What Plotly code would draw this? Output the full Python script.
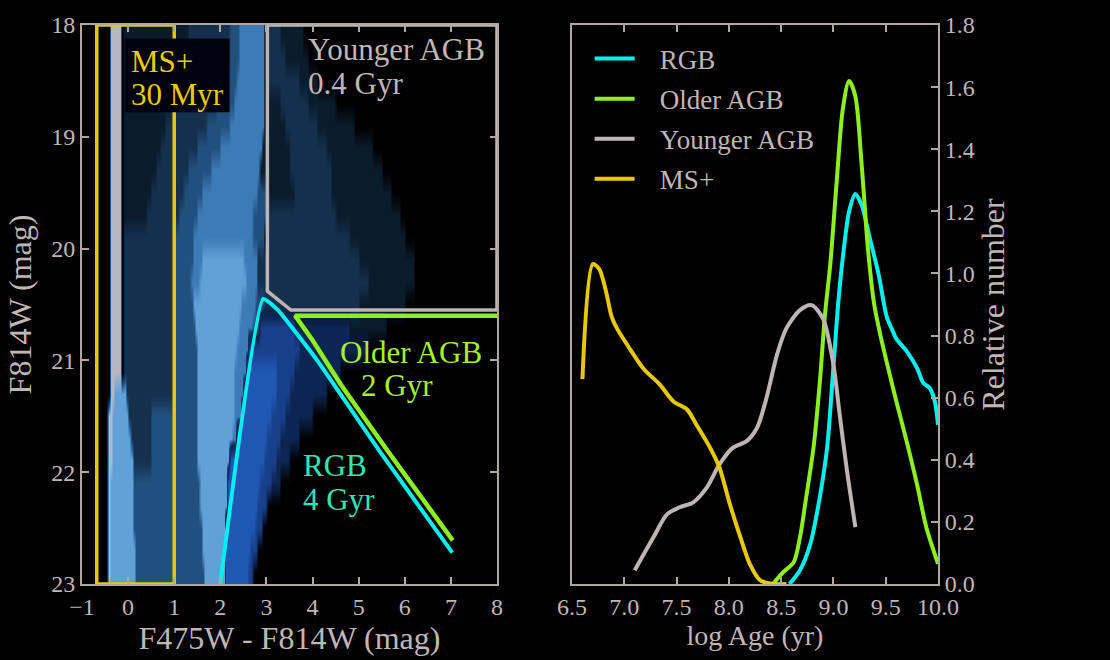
import numpy as np
import plotly.graph_objects as go

FONT = "Liberation Serif"
TXT = "#c0b7b4"
FR = "#b0a7a4"

# ---------------- Left panel: CMD star density ----------------
# F814W bins (centres, 0.2 mag tall) and colour segments (c0, c1, density level)
# levels 1-6: light-blue population (6 = densest, grey); 7-9: dark-blue RGB population
cmd_row_mag = [18.1, 18.3, 18.5, 18.7, 18.9, 19.1, 19.3, 19.5, 19.7, 19.9,
               20.1, 20.3, 20.5, 20.7, 20.9, 21.1, 21.3, 21.5, 21.7, 21.9,
               22.1, 22.3, 22.5, 22.7, 22.9]
cmd_row_segments = [
    [(-0.4, -0.15, 6), (-0.1, 1.3, 1), (1.3, 2.2, 2), (2.2, 2.4, 3), (2.4, 2.95, 4), (3.0, 3.3, 2), (3.3, 3.8, 1)],
    [(-0.4, -0.15, 6), (-0.1, 1.3, 1), (1.3, 2.2, 2), (2.2, 2.4, 3), (2.4, 2.95, 4), (3.0, 3.4, 2), (3.4, 3.9, 1)],
    [(-0.4, -0.15, 6), (-0.1, 1.2, 1), (1.2, 2.1, 2), (2.1, 2.35, 3), (2.35, 2.95, 4), (3.0, 3.7, 2), (3.7, 4.1, 1)],
    [(-0.4, -0.15, 6), (-0.1, 0.9, 1), (0.9, 1.9, 2), (1.9, 2.3, 3), (2.3, 2.95, 4), (3.0, 3.3, 1), (3.3, 3.9, 2), (3.9, 4.5, 1)],
    [(-0.4, -0.15, 6), (-0.1, 0.8, 1), (0.8, 1.7, 2), (1.7, 2.2, 3), (2.2, 2.95, 4), (3.0, 3.4, 1), (3.4, 4.1, 2), (4.1, 4.9, 1)],
    [(-0.4, -0.15, 6), (-0.1, 0.7, 1), (0.7, 1.5, 2), (1.5, 2.0, 3), (2.0, 2.9, 4), (2.9, 3.5, 1), (3.5, 4.3, 2), (4.3, 5.3, 1)],
    [(-0.4, -0.15, 6), (-0.1, 0.6, 1), (0.6, 1.3, 2), (1.3, 1.8, 3), (1.8, 2.85, 4), (2.85, 3.5, 1), (3.5, 4.4, 2), (4.4, 5.5, 1)],
    [(-0.4, -0.15, 6), (-0.1, 0.5, 1), (0.5, 1.2, 2), (1.2, 1.6, 3), (1.6, 2.8, 4), (2.8, 3.0, 3), (3.0, 3.6, 1), (3.6, 4.4, 2), (4.4, 5.7, 1)],
    [(-0.4, -0.15, 6), (-0.1, 0.4, 1), (0.4, 1.1, 2), (1.1, 1.5, 3), (1.5, 2.7, 4), (2.7, 3.0, 3), (3.0, 4.5, 2), (4.5, 5.9, 1)],
    [(-0.4, -0.15, 6), (-0.1, 1.0, 2), (1.0, 1.4, 3), (1.4, 2.7, 4), (2.7, 2.95, 3), (3.0, 4.8, 2), (4.8, 6.0, 1)],
    [(-0.4, -0.15, 6), (-0.1, 1.0, 2), (1.0, 1.4, 3), (1.4, 1.6, 4), (1.6, 2.5, 5), (2.5, 2.8, 4), (2.8, 5.0, 2), (5.0, 6.2, 1)],
    [(-0.4, -0.15, 6), (-0.1, 1.0, 2), (1.0, 1.35, 3), (1.35, 1.55, 4), (1.55, 2.55, 5), (2.55, 2.8, 4), (2.8, 5.2, 2), (5.2, 6.2, 1)],
    [(-0.4, -0.15, 6), (-0.1, 1.0, 2), (1.0, 1.4, 3), (1.4, 2.45, 5), (2.45, 2.75, 4), (2.75, 2.95, 3), (2.95, 5.0, 2), (5.0, 6.0, 1)],
    [(-0.4, -0.15, 6), (-0.1, 1.0, 2), (1.0, 1.45, 3), (1.45, 2.4, 5), (2.4, 2.7, 4), (2.7, 2.85, 3), (2.85, 3.6, 8), (3.6, 4.8, 7), (4.8, 5.6, 1)],
    [(-0.4, -0.15, 6), (-0.1, 1.0, 2), (1.0, 1.5, 3), (1.5, 2.35, 5), (2.35, 2.6, 4), (2.6, 3.7, 8), (3.7, 5.2, 7)],
    [(-0.4, -0.15, 6), (-0.1, 1.0, 2), (1.0, 1.5, 3), (1.5, 2.3, 5), (2.3, 2.55, 4), (2.55, 3.2, 9), (3.2, 3.6, 8), (3.6, 4.6, 7)],
    [(-0.4, -0.3, 6), (-0.3, -0.05, 5), (-0.05, 1.0, 2), (1.0, 1.5, 3), (1.5, 2.3, 5), (2.3, 2.5, 4), (2.5, 3.2, 9), (3.2, 3.5, 8), (3.5, 4.3, 7)],
    [(-0.45, -0.35, 6), (-0.35, 0.0, 5), (0.0, 0.5, 2), (0.5, 1.5, 3), (1.5, 2.3, 5), (2.3, 2.45, 4), (2.45, 3.1, 9), (3.1, 3.4, 8), (3.4, 4.0, 7)],
    [(-0.45, -0.35, 6), (-0.35, 0.05, 5), (0.05, 0.5, 2), (0.5, 1.5, 3), (1.5, 2.25, 5), (2.25, 2.35, 4), (2.35, 3.0, 9), (3.0, 3.3, 8), (3.3, 3.7, 7)],
    [(-0.45, -0.35, 6), (-0.35, 0.1, 5), (0.1, 0.5, 2), (0.5, 1.5, 3), (1.5, 2.2, 5), (2.2, 2.95, 9), (2.95, 3.2, 8), (3.2, 3.5, 7)],
    [(-0.45, -0.4, 6), (-0.4, 0.1, 5), (0.1, 1.55, 3), (1.55, 2.15, 5), (2.15, 2.85, 9), (2.85, 3.1, 8), (3.1, 3.3, 7)],
    [(-0.45, -0.4, 6), (-0.4, 0.12, 5), (0.12, 1.55, 3), (1.55, 2.15, 5), (2.15, 2.8, 9), (2.8, 3.0, 8)],
    [(-0.45, -0.4, 6), (-0.4, 0.12, 5), (0.12, 1.6, 3), (1.6, 2.1, 5), (2.1, 2.75, 9), (2.75, 2.9, 8)],
    [(-0.45, -0.4, 6), (-0.4, 0.15, 5), (0.15, 1.6, 3), (1.6, 2.1, 5), (2.1, 2.65, 9), (2.65, 2.8, 8)],
    [(-0.45, -0.4, 6), (-0.4, 0.15, 5), (0.15, 1.65, 3), (1.65, 2.1, 5), (2.1, 2.6, 9), (2.6, 2.7, 8)],
]
# colours of the light-blue levels 0..6 and dark-blue levels 0..3 (7..9 above)
light_level_colors = ["#000000", "#0a1b2c", "#14304d", "#22507e", "#3d7bb7", "#62a0d8", "#b5b7c2"]
dark_level_colors = ["rgba(12,37,82,0)", "rgba(12,37,82,1)", "rgb(23,63,138)", "rgb(32,87,181)"]

# selection boxes (colour, F814W)
ms_box_c = [-0.68, -0.68, 1.0, 1.0, -0.68]
ms_box_m = [18.0, 23.0, 23.0, 18.0, 18.0]
yagb_box_c = [3.02, 3.02, 3.53, 8.0, 8.0, 3.02]
yagb_box_m = [18.0, 20.38, 20.55, 20.55, 18.0, 18.0]
oagb_line_c = [8.0, 3.62, 4.0, 4.62, 5.63, 7.04]
oagb_line_m = [20.6, 20.6, 20.82, 21.22, 21.81, 22.61]
rgb_line_c = [2.0, 2.93, 3.25, 3.6, 4.1, 4.47, 5.45, 7.03]
rgb_line_m = [23.0, 20.45, 20.55, 20.73, 21.0, 21.22, 21.81, 22.72]

# ---------------- Right panel: relative number vs log age ----------------
rgb_age = [8.58, 8.68, 8.78, 8.87, 8.94, 9.00, 9.05, 9.10, 9.15, 9.21, 9.27, 9.35, 9.43,
           9.51, 9.56, 9.60, 9.70, 9.80, 9.86, 9.92, 9.97, 10.0]
rgb_val = [0.0, 0.044, 0.13, 0.28, 0.44, 0.70, 0.92, 1.08, 1.20, 1.256, 1.22, 1.11, 1.0,
           0.86, 0.82, 0.79, 0.75, 0.695, 0.647, 0.631, 0.588, 0.513]
oagb_age = [8.43, 8.52, 8.62, 8.68, 8.74, 8.81, 8.87, 8.92, 8.97, 9.03, 9.09, 9.15, 9.21,
            9.27, 9.33, 9.39, 9.45, 9.52, 9.60, 9.70, 9.80, 9.89, 10.0]
oagb_val = [0.003, 0.038, 0.07, 0.15, 0.28, 0.44, 0.65, 0.87, 1.03, 1.29, 1.53, 1.62, 1.57,
            1.35, 1.08, 0.90, 0.80, 0.70, 0.59, 0.46, 0.32, 0.18, 0.065]
yagb_age = [7.10, 7.28, 7.41, 7.53, 7.66, 7.79, 7.91, 8.04, 8.17, 8.27, 8.36, 8.46, 8.55,
            8.68, 8.79, 8.90, 9.00, 9.06, 9.13, 9.21]
yagb_val = [0.044, 0.151, 0.225, 0.247, 0.263, 0.311, 0.385, 0.439, 0.460, 0.503, 0.599,
            0.738, 0.823, 0.882, 0.898, 0.855, 0.706, 0.545, 0.364, 0.183]
ms_age = [6.60, 6.70, 6.76, 6.82, 6.88, 6.93, 7.05, 7.18, 7.34, 7.47, 7.60, 7.69, 7.82,
          7.91, 8.01, 8.11, 8.20, 8.30, 8.42, 8.55]
ms_val = [0.66, 1.03, 1.015, 0.95, 0.86, 0.823, 0.759, 0.695, 0.642, 0.588, 0.562, 0.513,
          0.439, 0.375, 0.257, 0.151, 0.065, 0.012, 0.0, 0.0]

series_names = ["RGB", "Older AGB", "Younger AGB", "MS+"]
series_colors = ["#00f0f0", "#8cf01e", "#bdb5b3", "#e8c800"]
label_colors = ["#2ee6b4", "#a6f02a", "#c0b7b4", "#e8cc00"]

# ---------------- build density grids ----------------
col_centres = np.arange(-0.975, 8.0, 0.05)
z_light = np.zeros((len(cmd_row_mag), len(col_centres)))
z_dark = np.zeros((len(cmd_row_mag), len(col_centres)))
for i, segs in enumerate(cmd_row_segments):
    for c0, c1, lev in segs:
        sel = (col_centres >= c0 - 1e-9) & (col_centres < c1 - 1e-9)
        if lev <= 6:
            z_light[i, sel] = lev
        else:
            z_dark[i, sel] = lev - 6


def scale(cols):
    n = len(cols) - 1
    return [[k / n, c] for k, c in enumerate(cols)]


fig = go.Figure()
fig.add_trace(go.Heatmap(x=col_centres, y=cmd_row_mag, z=z_light, zmin=0, zmax=6,
                         colorscale=scale(light_level_colors), zsmooth="best",
                         showscale=False, hoverinfo="skip", xaxis="x", yaxis="y"))
fig.add_trace(go.Heatmap(x=col_centres, y=cmd_row_mag, z=z_dark, zmin=0, zmax=3,
                         colorscale=scale(dark_level_colors), zsmooth="best",
                         showscale=False, hoverinfo="skip", xaxis="x", yaxis="y"))
fig.add_trace(go.Scatter(x=ms_box_c, y=ms_box_m, mode="lines", line=dict(color="#e8c800", width=3.5),
                         showlegend=False, xaxis="x", yaxis="y"))
fig.add_trace(go.Scatter(x=oagb_line_c, y=oagb_line_m, mode="lines", line=dict(color="#8cf01e", width=4.5),
                         showlegend=False, xaxis="x", yaxis="y"))
fig.add_trace(go.Scatter(x=yagb_box_c, y=yagb_box_m, mode="lines", line=dict(color="#bdb5b3", width=3.5),
                         showlegend=False, xaxis="x", yaxis="y"))
fig.add_trace(go.Scatter(x=rgb_line_c, y=rgb_line_m, mode="lines",
                         line=dict(color="#00f0f0", width=4, shape="spline", smoothing=0.4),
                         showlegend=False, xaxis="x", yaxis="y"))

ages = [rgb_age, oagb_age, yagb_age, ms_age]
vals = [rgb_val, oagb_val, yagb_val, ms_val]
NB = "\u00a0\u00a0\u00a0"
for name, col, a, v in zip(series_names, series_colors, ages, vals):
    fig.add_trace(go.Scatter(x=a, y=v, mode="lines", name=NB + name, legendgroup=name,
                             line=dict(color=col, width=4, shape="spline", smoothing=0.8),
                             xaxis="x2", yaxis="y2"))

axis_common = dict(showline=True, linecolor=FR, linewidth=2, ticks="inside", ticklen=7,
                   tickwidth=1.5, tickcolor=FR, showgrid=False, zeroline=False,
                   tickfont=dict(family=FONT, size=24, color=TXT))

fig.update_layout(
    width=1110, height=660,
    paper_bgcolor="black", plot_bgcolor="black",
    margin=dict(l=82, r=172, t=25, b=73),
    font=dict(family=FONT, color=TXT),
    xaxis=dict(domain=[0, 0.4848], range=[-1, 8], tickvals=list(range(-1, 9)), mirror="allticks",
               title=dict(text="F475W - F814W (mag)", font=dict(family=FONT, size=32, color=TXT), standoff=6),
               **axis_common),
    yaxis=dict(range=[23, 18], tickvals=list(range(18, 24)), mirror="allticks", anchor="x",
               title=dict(text="F814W (mag)", font=dict(family=FONT, size=32, color=TXT), standoff=10),
               **axis_common),
    xaxis2=dict(domain=[0.5724, 1], range=[6.5, 10.0], dtick=0.5, tick0=6.5, tickformat=".1f",
                mirror="allticks", anchor="y2",
                title=dict(text="log Age (yr)", font=dict(family=FONT, size=28, color=TXT), standoff=6),
                **axis_common),
    yaxis2=dict(range=[0, 1.8], dtick=0.2, tickformat=".1f", side="right", mirror=True, anchor="x2",
                title=dict(text="Relative number", font=dict(family=FONT, size=32, color=TXT), standoff=6),
                **axis_common),
    legend=dict(x=0.593, y=0.983, xanchor="left", yanchor="top", bgcolor="rgba(0,0,0,0)",
                font=dict(family=FONT, size=27, color=TXT), itemwidth=40, tracegroupgap=2,
                traceorder="grouped"),
    showlegend=True,
)

# dark label box behind MS+ text
fig.add_shape(type="rect", xref="x", yref="y", x0=-0.08, x1=2.2, y0=18.12, y1=18.78,
              fillcolor="#02020e", line=dict(width=0), layer="above")

ann = [
    ("MS+", 0.03, 18.33, label_colors[3]),
    ("30 Myr", 0.03, 18.62, label_colors[3]),
    ("Younger AGB", 3.85, 18.22, label_colors[2]),
    ("0.4 Gyr", 3.85, 18.52, label_colors[2]),
    ("Older AGB", 4.55, 20.93, label_colors[1]),
    ("2 Gyr", 5.0, 21.22, label_colors[1]),
    ("RGB", 3.74, 21.94, label_colors[0]),
    ("4 Gyr", 3.74, 22.24, label_colors[0]),
]
for t, x, y, c in ann:
    fig.add_annotation(text=t, x=x, y=y, xref="x", yref="y", xanchor="left", yanchor="middle",
                       showarrow=False, font=dict(family=FONT, size=31, color=c))

fig.write_html("out.html")
